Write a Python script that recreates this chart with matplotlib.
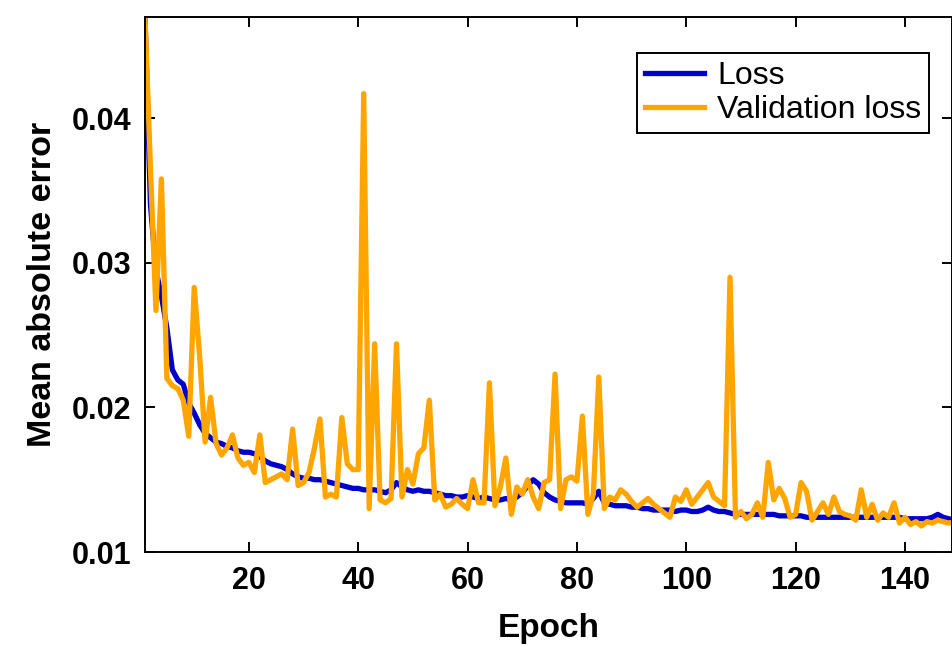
import numpy as np
import matplotlib.pyplot as plt

plt.rcParams['font.family'] = ['Liberation Sans', 'DejaVu Sans']

# training history
epochs = np.arange(1, 151)

loss = [
    0.0470, 0.0340, 0.0295, 0.0277, 0.0255, 0.0226, 0.0219, 0.0216, 0.0203, 0.0196,
    0.0188, 0.0182, 0.0179, 0.0176, 0.0175, 0.0173, 0.0172, 0.0170, 0.0169, 0.0169,
    0.0168, 0.0166, 0.0163, 0.0161, 0.0160, 0.0159, 0.0157, 0.0154, 0.0152, 0.0151,
    0.0151, 0.0150, 0.0150, 0.0149, 0.0148, 0.0147, 0.0146, 0.0145, 0.0144, 0.0144,
    0.0143, 0.0143, 0.0143, 0.0142, 0.0141, 0.0143, 0.0148, 0.0145, 0.0143, 0.0142,
    0.0143, 0.0142, 0.0142, 0.0141, 0.0140, 0.0139, 0.0139, 0.0138, 0.0138, 0.0139,
    0.0138, 0.0137, 0.0138, 0.0137, 0.0136, 0.0136, 0.0137, 0.0136, 0.0138, 0.0141,
    0.0146, 0.0150, 0.0147, 0.0141, 0.0138, 0.0136, 0.0135, 0.0134, 0.0134, 0.0134,
    0.0134, 0.0133, 0.0137, 0.0142, 0.0134, 0.0133, 0.0132, 0.0132, 0.0132, 0.0131,
    0.0131, 0.0130, 0.0130, 0.0129, 0.0129, 0.0129, 0.0129, 0.0128, 0.0129, 0.0129,
    0.0128, 0.0128, 0.0129, 0.0131, 0.0129, 0.0128, 0.0128, 0.0127, 0.0126, 0.0126,
    0.0126, 0.0126, 0.0126, 0.0126, 0.0126, 0.0126, 0.0125, 0.0125, 0.0125, 0.0125,
    0.0125, 0.0124, 0.0124, 0.0124, 0.0124, 0.0124, 0.0124, 0.0124, 0.0124, 0.0124,
    0.0124, 0.0124, 0.0124, 0.0124, 0.0124, 0.0124, 0.0124, 0.0124, 0.0124, 0.0123,
    0.0123, 0.0123, 0.0123, 0.0123, 0.0124, 0.0126, 0.0124, 0.0123, 0.0122, 0.0122,
]

val_loss = [
    0.0470, 0.0365, 0.0267, 0.0358, 0.0220, 0.0215, 0.0213, 0.0205, 0.0180, 0.0283,
    0.0235, 0.0176, 0.0207, 0.0175, 0.0167, 0.0172, 0.0181, 0.0165, 0.0160, 0.0162,
    0.0155, 0.0181, 0.0148, 0.0150, 0.0152, 0.0154, 0.0150, 0.0185, 0.0146, 0.0148,
    0.0155, 0.0172, 0.0192, 0.0138, 0.0140, 0.0138, 0.0193, 0.0161, 0.0157, 0.0157,
    0.0417, 0.0130, 0.0244, 0.0136, 0.0134, 0.0137, 0.0244, 0.0138, 0.0157, 0.0147,
    0.0168, 0.0172, 0.0205, 0.0136, 0.0140, 0.0131, 0.0133, 0.0137, 0.0133, 0.0130,
    0.0150, 0.0134, 0.0134, 0.0217, 0.0132, 0.0145, 0.0165, 0.0126, 0.0145, 0.0140,
    0.0150, 0.0138, 0.0130, 0.0148, 0.0150, 0.0223, 0.0130, 0.0150, 0.0152, 0.0149,
    0.0194, 0.0126, 0.0140, 0.0221, 0.0130, 0.0138, 0.0136, 0.0143, 0.0140, 0.0135,
    0.0131, 0.0134, 0.0137, 0.0133, 0.0130, 0.0127, 0.0124, 0.0138, 0.0135, 0.0143,
    0.0133, 0.0138, 0.0143, 0.0148, 0.0138, 0.0135, 0.0132, 0.0290, 0.0124, 0.0128,
    0.0123, 0.0126, 0.0134, 0.0124, 0.0162, 0.0136, 0.0144, 0.0137, 0.0124, 0.0126,
    0.0148, 0.0142, 0.0122, 0.0128, 0.0134, 0.0126, 0.0138, 0.0128, 0.0126, 0.0125,
    0.0122, 0.0143, 0.0124, 0.0133, 0.0122, 0.0127, 0.0124, 0.0134, 0.0120, 0.0124,
    0.0119, 0.0121, 0.0118, 0.0121, 0.0120, 0.0122, 0.0121, 0.0120, 0.0121, 0.0120,
]

xticks = [20, 40, 60, 80, 100, 120, 140]
yticks = [0.01, 0.02, 0.03, 0.04]

fig = plt.figure(figsize=(9.53, 6.46), dpi=100)
ax = fig.add_axes([145 / 953, 1 - 552 / 646, 807 / 953, 535 / 646])

ax.plot(epochs, loss, color='#0000cc', linewidth=3.8, label='Loss')
ax.plot(epochs, val_loss, color='#ffa500', linewidth=3.8, label='Validation loss')

ax.set_xlim(1, 148.6)
ax.set_ylim(0.01, 0.047)
ax.set_xticks(xticks)
ax.set_yticks(yticks)
ax.set_yticklabels(['0.01', '0.02', '0.03', '0.04'])

ax.tick_params(direction='in', length=7, width=1.4, top=True, right=True,
               labelsize=22, pad=10)
for lab in ax.get_xticklabels() + ax.get_yticklabels():
    lab.set_fontweight('bold')
for sp in ax.spines.values():
    sp.set_linewidth(1.4)

ax.set_xlabel('Epoch', fontsize=24, fontweight='bold', labelpad=12)
ax.set_ylabel('Mean absolute error', fontsize=24.5, fontweight='bold', labelpad=10)

leg = ax.legend(loc='upper right', bbox_to_anchor=(929 / 953, 1 - 53 / 646),
                bbox_transform=fig.transFigure, borderaxespad=0, fontsize=23,
                handlelength=1.85, handletextpad=0.4, labelspacing=0.12,
                borderpad=0.25, fancybox=False, framealpha=1)
leg.get_frame().set_edgecolor('black')
leg.get_frame().set_linewidth(1.4)

plt.savefig('out.png', dpi=100)
